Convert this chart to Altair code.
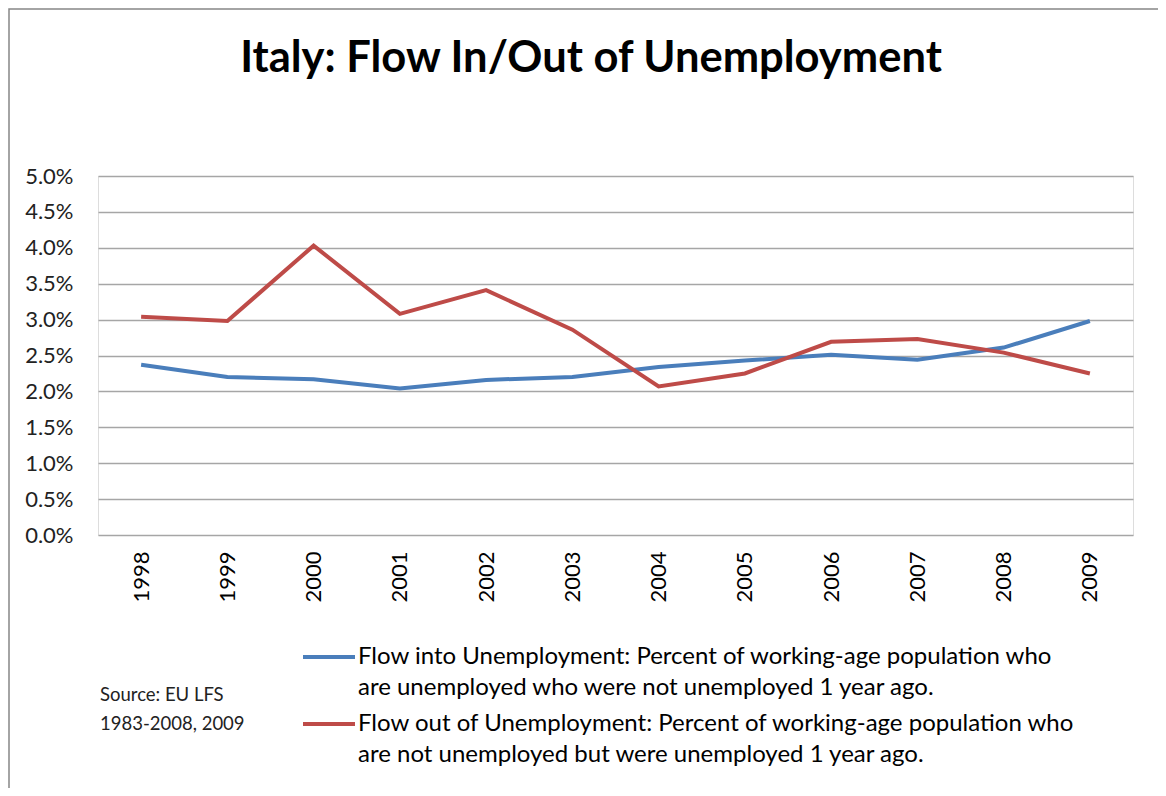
import altair as alt
import pandas as pd

YEARS = ["1998", "1999", "2000", "2001", "2002", "2003", "2004", "2005", "2006", "2007", "2008", "2009"]
FLOW_INTO = [2.37, 2.20, 2.17, 2.04, 2.16, 2.20, 2.34, 2.43, 2.51, 2.44, 2.61, 2.98]
FLOW_OUT = [3.04, 2.98, 4.03, 3.08, 3.41, 2.86, 2.07, 2.25, 2.69, 2.73, 2.54, 2.25]
SERIES = ["Flow into Unemployment", "Flow out of Unemployment"]
LEGEND_LINES = [
    ["Flow into Unemployment: Percent of working-age population who",
     "are unemployed who were not unemployed 1 year ago."],
    ["Flow out of Unemployment: Percent of working-age population who",
     "are not unemployed but were unemployed 1 year ago."],
]
COLORS = ["#4A7EBB", "#BE4B48"]
Y_TICKS = [0.0, 0.005, 0.01, 0.015, 0.02, 0.025, 0.03, 0.035, 0.04, 0.045, 0.05]
TITLE = "Italy: Flow In/Out of Unemployment"
SOURCE = ["Source: EU LFS", "1983-2008, 2009"]

rows = []
for s, vals in zip(SERIES, [FLOW_INTO, FLOW_OUT]):
    for y, v in zip(YEARS, vals):
        rows.append({"year": y, "value": v / 100.0, "series": s})
df = pd.DataFrame(rows)

FONT = "Lato"
W, H = 1035, 359

lines = alt.Chart(df).mark_line(strokeWidth=4, clip=False).encode(
    x=alt.X("year:O", sort=YEARS,
            scale=alt.Scale(type="point", padding=0.5),
            axis=alt.Axis(title=None, labelAngle=270, labelFontSize=22, labelFont=FONT,
                          labelColor="#000000", ticks=False, domain=False, grid=False,
                          labelPadding=16, labelAlign="right", labelBaseline="middle")),
    y=alt.Y("value:Q",
            scale=alt.Scale(domain=[0, 0.05], nice=False, zero=True),
            axis=alt.Axis(title=None, values=Y_TICKS, format=".1%", labelFontSize=22,
                          labelFont=FONT, labelColor="#222222", ticks=False, domain=False,
                          grid=True, gridColor="#a6a6a6", gridWidth=1.5, labelPadding=25)),
    color=alt.Color("series:N", sort=SERIES,
                    scale=alt.Scale(domain=SERIES, range=COLORS), legend=None),
)

# hand-built legend (Excel style: symbol beside the first line of a two-line label)
legend_layers = []
ENTRY_Y = [481, 548]
for i, s in enumerate(SERIES):
    ldf = pd.DataFrame({"series": [s], "t": ["\n".join(LEGEND_LINES[i])]})
    sym = alt.Chart(ldf).mark_rule(strokeWidth=4, color=COLORS[i], clip=False).encode(
        x=alt.value(205), x2=alt.value(257), y=alt.value(ENTRY_Y[i]))
    txt = alt.Chart(ldf).mark_text(
        align="left", baseline="middle", lineBreak="\n", lineHeight=31,
        fontSize=24, font=FONT, color="#000000", clip=False
    ).encode(x=alt.value(260), y=alt.value(ENTRY_Y[i]), text="t:N")
    legend_layers += [sym, txt]

src = alt.Chart(pd.DataFrame({"t": ["\n".join(SOURCE)]})).mark_text(
    align="left", baseline="middle", lineBreak="\n", lineHeight=29,
    fontSize=18.5, font=FONT, color="#222222", clip=False
).encode(x=alt.value(2), y=alt.value(519), text="t:N")

title = alt.Chart(pd.DataFrame({"t": [TITLE]})).mark_text(
    align="center", baseline="alphabetic", fontSize=43.5, fontWeight="bold",
    font=FONT, color="#000000", clip=False
).encode(x=alt.value(493), y=alt.value(-104), text="t:N")

frame = alt.Chart(pd.DataFrame({"a": [0]})).mark_rect(
    fill=None, stroke="#868686", strokeWidth=1.5, clip=False
).encode(x=alt.value(-89), x2=alt.value(3000), y=alt.value(-167), y2=alt.value(3000))

chart = alt.layer(frame, lines, src, title, *legend_layers).properties(
    width=W, height=H,
    autosize=alt.AutoSizeParams(type="none"),
    padding={"left": 90, "top": 168, "right": 25, "bottom": 253},
).configure_view(stroke=None).configure(background="white")

chart.save("out.html", embed_options={"renderer": "svg", "actions": False})
